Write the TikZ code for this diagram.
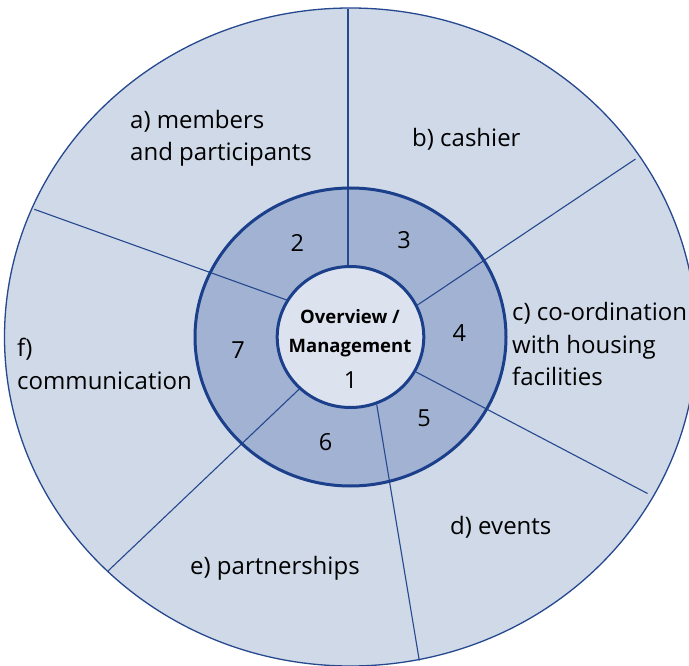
\documentclass[tikz,border=0pt]{standalone}
\usepackage{fontspec}
\setmainfont{Open Sans}
\definecolor{outerfill}{RGB}{207,217,231}
\definecolor{ringfill}{RGB}{161,178,210}
\definecolor{innerfill}{RGB}{220,227,239}
\definecolor{lineblue}{RGB}{37,72,143}
\definecolor{ringblue}{RGB}{27,63,139}
\begin{document}
\begin{tikzpicture}[x=1pt,y=-1pt,
  sector/.style={draw=lineblue,line width=1.1pt},
  lbl/.style={anchor=base west,inner sep=0pt,font=\fontsize{24}{28}\selectfont,text=black},
  num/.style={inner sep=0pt,font=\fontsize{23.5}{28}\selectfont,text=black},
  ctr/.style={inner sep=0pt,font=\fontsize{18.5}{22}\selectfont\bfseries,text=black}]
\useasboundingbox (0,0) rectangle (689,666);
\coordinate (C) at (350.5,337);
% fills
\fill[outerfill] (C) ellipse [x radius=346, y radius=329];
\fill[ringfill] (C) ellipse [x radius=155.5, y radius=149];
\fill[innerfill] (C) ellipse [x radius=73.3, y radius=70.5];
% radial division lines
\coordinate (abO) at (348,9);     \coordinate (abI) at (348,266);
\coordinate (bcO) at (635.5,159); \coordinate (bcI) at (417.5,305);
\coordinate (cdO) at (647.5,493.5); \coordinate (cdI) at (416,372);
\coordinate (deO) at (419.3,660.5); \coordinate (deI) at (376.7,404.5);
\coordinate (efO) at (108.3,570.7); \coordinate (efI) at (299.3,389);
\coordinate (faO) at (34.3,209.3); \coordinate (faI) at (286.7,300);
\draw[sector] (abI) -- (abO);
\draw[sector] (bcI) -- (bcO);
\draw[sector] (cdI) -- (cdO);
\draw[sector] (deI) -- (deO);
\draw[sector] (efI) -- (efO);
\draw[sector] (faI) -- (faO);
% outlines
\draw[ringblue,line width=3pt] (C) ellipse [x radius=155.5, y radius=149];
\draw[ringblue,line width=3pt] (C) ellipse [x radius=73.3, y radius=70.5];
\draw[lineblue,line width=1.3pt] (C) ellipse [x radius=346, y radius=329];
% centre
\node[ctr] (ov) at (350,316.5) {Overview /};
\node[ctr] (mg) at (350,348) {Management};
\node[num] (n1) at (350.7,380) {1};
% ring numbers
\node[num] (n2) at (297.3,243.3) {2};
\node[num] (n3) at (404,240) {3};
\node[num] (n4) at (459.3,333.3) {4};
\node[num] (n5) at (424,418) {5};
\node[num] (n6) at (325.5,442) {6};
\node[num] (n7) at (238,350) {7};
% outer labels
\node[lbl] (a1) at (130,128.3) {a) members};
\node[lbl] (a2) at (130,160.7) {and participants};
\node[lbl] (b1) at (412,146.7) {b) cashier};
\node[lbl] (c1) at (512,320.5) {c) co-ordination};
\node[lbl] (c2) at (512,353) {with housing};
\node[lbl] (c3) at (512,385.5) {facilities};
\node[lbl] (d1) at (450,534.3) {d) events};
\node[lbl] (e1) at (190,574) {e) partnerships};
\node[lbl] (f1) at (17,356.5) {f)};
\node[lbl] (f2) at (17,389) {communication};
\end{tikzpicture}
\end{document}
